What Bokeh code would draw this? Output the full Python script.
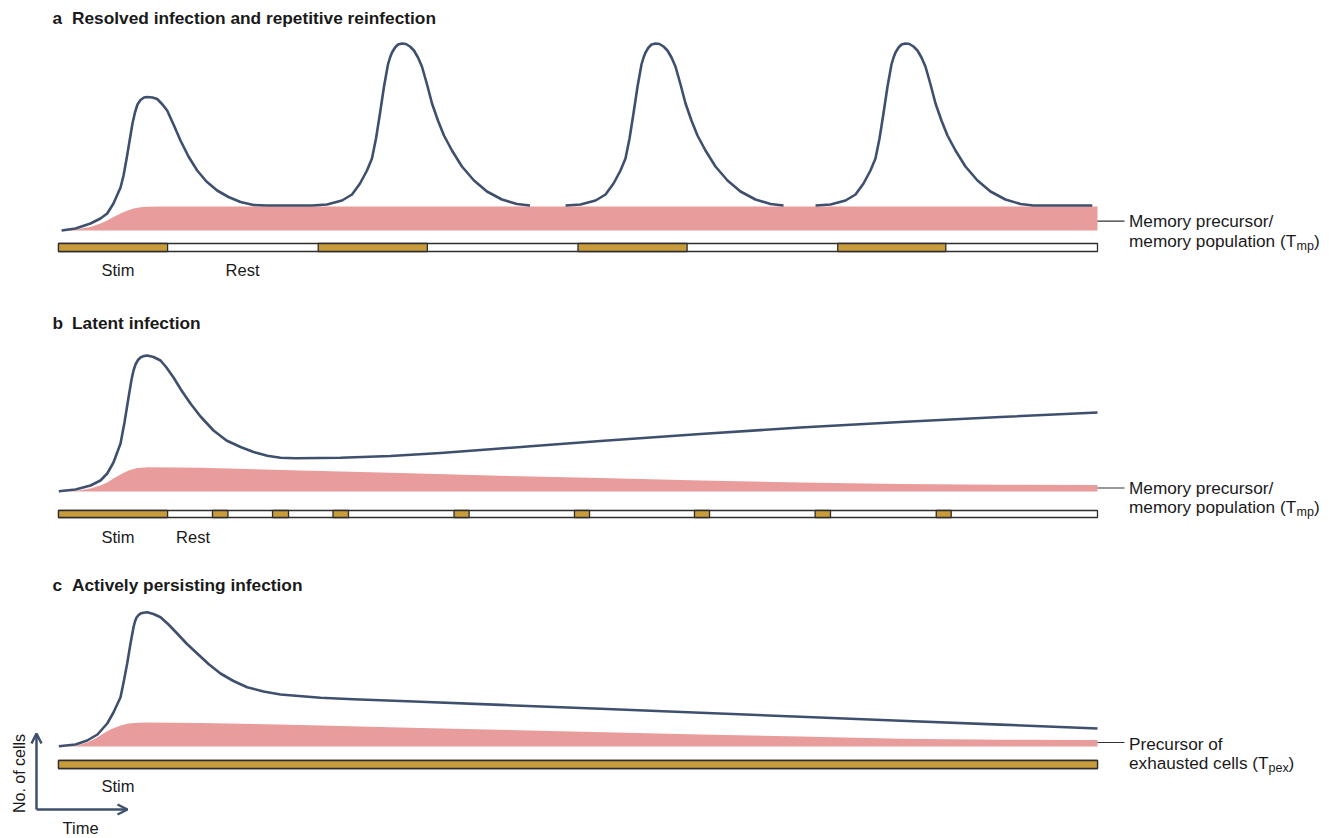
import math
from bokeh.plotting import figure
from bokeh.models import Range1d, Arrow, OpenHead
from bokeh.layouts import column
from bokeh.core.properties import value
from bokeh.embed import file_html
from bokeh.resources import INLINE

# ---------------- data (time in arbitrary units 0..100, cells in arbitrary units) ----------------
# Panel a: resolved infection and repetitive reinfection
a_first_t = [0.3, 1.64, 3.08, 4.04, 4.69, 5.29, 5.97, 6.26, 6.54, 6.83, 7.12, 7.36, 7.60, 7.89,
             8.23, 8.54, 9.05, 9.50, 10.01, 10.46, 11.07, 11.74, 12.51, 13.35, 14.24, 15.27,
             16.36, 17.52, 18.77, 20.09]
a_first_cells = [0, 2, 7, 12, 17, 27, 43, 55, 71, 89, 107, 118, 126, 130.5,
                 133, 133.5, 133, 131.5, 126, 120, 106, 90, 74, 60, 49, 40,
                 33.5, 28.5, 25.5, 25]
reinfection_peak_t = [33.06, 57.46, 81.52]
peak_shape_dt = [-8.66, -7.22, -5.77, -4.81, -4.04, -3.37, -2.89, -2.50, -2.12, -1.73, -1.35, -1.15,
                 -0.96, -0.67, -0.38, 0.0, 0.38, 0.77, 1.15, 1.54, 1.92, 2.41, 2.89, 3.46, 4.04,
                 4.81, 5.77, 6.93, 8.18, 9.62, 11.07, 12.32]
peak_shape_cells = [25, 26, 30, 36, 47, 60, 72, 92, 117, 144, 166, 173,
                    178, 183, 186, 187, 186.5, 184, 180, 173, 164, 146, 127, 110, 95,
                    80, 64, 50, 39, 31, 26.5, 25]
a_final_t = 99.5
a_final_cells = 25
a_memory_t = [0.0, 1.64, 3.08, 4.04, 4.69, 5.29, 5.97, 6.64, 7.22, 7.89, 8.54, 9.82, 100.0]
a_memory_cells = [0, 1, 3.5, 7, 10, 13.5, 17, 20, 22, 23.3, 23.8, 24, 24]
a_stim_start = [0, 25, 50, 75]
a_stim_end = [10.5, 35.5, 60.5, 85.4]

# Panel b: latent infection
b_t = [0.03, 1.64, 3.08, 4.04, 4.69, 5.29, 5.97, 6.35, 6.74, 7.03, 7.22, 7.41, 7.65, 7.89, 8.18,
       8.54, 9.14, 9.82, 10.39, 11.07, 11.84, 12.70, 13.67, 14.92, 16.17, 17.52, 18.77, 20.09,
       21.37, 22.81, 27.14, 31.95, 36.77, 41.58, 46.39, 52.17, 61.79, 71.41, 81.04, 90.66, 100.0]
b_cells = [0.3, 2, 6, 11, 18, 29, 48, 69, 94, 112, 121, 127, 131.5, 134, 135.4,
           136, 134.5, 131, 124, 114, 101, 88, 75, 61, 51, 44.5, 39.5, 35.7,
           33.8, 33.3, 33.8, 35.5, 38.5, 42.2, 46, 50.5, 57.5, 64, 69.5, 74.5, 79]
b_memory_t = [0.0, 1.64, 3.08, 4.04, 4.69, 5.29, 5.97, 6.74, 7.57, 8.66, 13.67, 23.29, 32.92,
              41.58, 52.17, 61.79, 71.41, 81.04, 90.66, 100.0]
b_memory_cells = [0, 0.5, 3, 6, 9, 13, 17, 21, 23.5, 24.3, 23.7, 21, 18.5,
                  16, 13.5, 11, 9, 7.5, 6.8, 6.5]
b_stim_start = [0, 14.82, 20.60, 26.42, 38.07, 49.66, 61.21, 72.82, 84.48]
b_stim_end = [10.5, 16.31, 22.14, 27.91, 39.52, 51.11, 62.66, 74.30, 85.92]

# Panel c: actively persisting infection
c_t = [0.03, 1.64, 2.76, 3.75, 4.69, 5.29, 5.97, 6.30, 6.61, 6.93, 7.22, 7.36, 7.51, 7.70, 7.89,
       8.18, 8.54, 9.14, 9.82, 10.59, 11.42, 12.32, 13.35, 14.44, 15.59, 16.84, 18.16, 19.73,
       21.37, 25.22, 28.39, 34.84, 42.54, 52.17, 61.79, 71.41, 81.04, 90.66, 100.0]
c_cells = [0.3, 2, 6, 12, 23, 34, 49.3, 66, 83, 103, 119.3, 125, 129, 131.3, 133,
           133.8, 134.3, 132.5, 129.3, 122, 113, 103, 93, 82.5, 73, 65.5, 59.3, 55,
           52, 48.7, 47.3, 44.8, 41.6, 37.7, 33.7, 29.8, 25.8, 21.9, 18]
c_pex_t = [0.0, 1.64, 2.76, 3.56, 4.33, 5.0, 5.97, 6.74, 7.57, 8.54, 13.67, 23.29, 34.84,
           47.35, 61.79, 71.41, 81.04, 90.66, 100.0]
c_pex_cells = [0, 0.5, 4, 8, 13, 17, 21, 23, 23.7, 24, 23.5, 21.5, 18.5,
               15.5, 12, 10, 7.7, 6.8, 6.5]
c_stim_start = [0]
c_stim_end = [100]

titles = [("a", "Resolved infection and repetitive reinfection"),
          ("b", "Latent infection"),
          ("c", "Actively persisting infection")]

# ---------------- styling ----------------
NAVY = "#3f506e"
PINK = "#e99c9c"
GOLD = "#c89b3b"
EDGE = "#2e2e2e"
TXT = "#1a1a1a"
FONT = value("Liberation Sans")
PX = 10.39          # screen pixels per time unit
X_ORIGIN = 58       # screen x of time 0
W = 1328
LABEL_SIZE = "17.2px"


def sx(px):
    return (px - X_ORIGIN) / PX


def make_fig(height, y0, y1):
    p = figure(width=W, height=height, x_range=Range1d(sx(0), sx(W)), y_range=Range1d(y0, y1),
               output_backend="svg", toolbar_location=None, min_border=0,
               x_axis_location=None, y_axis_location=None)
    p.grid.visible = False
    p.outline_line_color = None
    p.background_fill_color = "white"
    p.border_fill_color = "white"
    return p


def txt(p, x, y, s, size="16.5px", bold=False, align="left", angle=0.0):
    p.text(x=[x], y=[y], text=[s], text_font=FONT, text_font_size=size,
           text_font_style="bold" if bold else "normal", text_align=align,
           text_baseline="middle", text_color=TXT, angle=angle)


def stim_bar(p, starts, ends, bottom, top):
    p.quad(left=[0], right=[100], bottom=[bottom], top=[top], fill_color="white",
           line_color=EDGE, line_width=1.3)
    p.quad(left=starts, right=ends, bottom=[bottom] * len(starts), top=[top] * len(starts),
           fill_color=GOLD, line_color=EDGE, line_width=1.3)


def title(p, y, letter, s):
    txt(p, sx(52), y, letter, size="17.3px", bold=True)
    txt(p, sx(71.5), y, s, size="17.3px", bold=True)


def side_label(p, y_conn, y1, line1, line2, sub, x_sub, x_close):
    p.segment(x0=[100], y0=[y_conn], x1=[sx(1124)], y1=[y_conn], line_color="#333333", line_width=1.2)
    txt(p, sx(1128.5), y1, line1, size=LABEL_SIZE)
    txt(p, sx(1128.5), y1 - 19.5, line2, size=LABEL_SIZE)
    txt(p, sx(x_sub), y1 - 19.5 - 5, sub, size="12.5px")
    txt(p, sx(x_close), y1 - 19.5, ")", size=LABEL_SIZE)


# ---------------- panel a ---------------- (screen rows 0..300, baseline at 230)
pa = make_fig(300, -70, 230)
pa.varea(x=a_memory_t, y1=[0] * len(a_memory_t), y2=a_memory_cells, fill_color=PINK)
t2, t3, t4 = reinfection_peak_t
seg1_x = a_first_t + [t2 + d for d in peak_shape_dt]
seg1_y = a_first_cells + peak_shape_cells
seg2_x = [t3 + d for d in peak_shape_dt]
seg2_y = list(peak_shape_cells)
seg3_x = [t4 + d for d in peak_shape_dt] + [a_final_t]
seg3_y = peak_shape_cells + [a_final_cells]
for xs, ys in ((seg1_x, seg1_y), (seg2_x, seg2_y), (seg3_x, seg3_y)):
    pa.line(xs, ys, line_color=NAVY, line_width=2.6, line_join="round")
stim_bar(pa, a_stim_start, a_stim_end, -21, -13)
title(pa, 213, *titles[0])
txt(pa, sx(117.5), -39, "Stim", align="center")
txt(pa, sx(242), -39, "Rest", align="center")
side_label(pa, 9.3, 9.3, "Memory precursor/", "memory population (T", "mp", 1296, 1313.5)

# ---------------- panel b ---------------- (screen rows 300..560, baseline at 491)
pb = make_fig(260, -69, 191)
pb.varea(x=b_memory_t, y1=[0] * len(b_memory_t), y2=b_memory_cells, fill_color=PINK)
pb.line(b_t, b_cells, line_color=NAVY, line_width=2.6, line_join="round")
stim_bar(pb, b_stim_start, b_stim_end, -26, -19)
title(pb, 169, *titles[1])
txt(pb, sx(117.5), -45.7, "Stim", align="center")
txt(pb, sx(192.5), -45.7, "Rest", align="center")
side_label(pb, 3.5, 3.7, "Memory precursor/", "memory population (T", "mp", 1296, 1313.5)

# ---------------- panel c ---------------- (screen rows 560..838, baseline at 746)
pc = make_fig(278, -92, 186)
pc.varea(x=c_pex_t, y1=[0] * len(c_pex_t), y2=c_pex_cells, fill_color=PINK)
pc.line(c_t, c_cells, line_color=NAVY, line_width=2.6, line_join="round")
stim_bar(pc, c_stim_start, c_stim_end, -22, -14)
title(pc, 162, *titles[2])
txt(pc, sx(117.5), -39, "Stim", align="center")
side_label(pc, 4, 3, "Precursor of", "exhausted cells (T", "pex", 1268, 1288)

ax_x = sx(36)
pc.add_layout(Arrow(end=OpenHead(size=10, line_color=NAVY, line_width=2.5),
                    x_start=ax_x, y_start=-63, x_end=ax_x, y_end=13,
                    line_color=NAVY, line_width=2.5))
pc.add_layout(Arrow(end=OpenHead(size=10, line_color=NAVY, line_width=2.5),
                    x_start=ax_x, y_start=-63, x_end=sx(127), y_end=-63,
                    line_color=NAVY, line_width=2.5))
txt(pc, sx(19), -27, "No. of cells", size="16px", align="center", angle=math.pi / 2)
txt(pc, sx(62), -81, "Time", size="16.5px")

layout = column(pa, pb, pc, spacing=0)
open("out.html", "w").write(file_html(layout, INLINE))
